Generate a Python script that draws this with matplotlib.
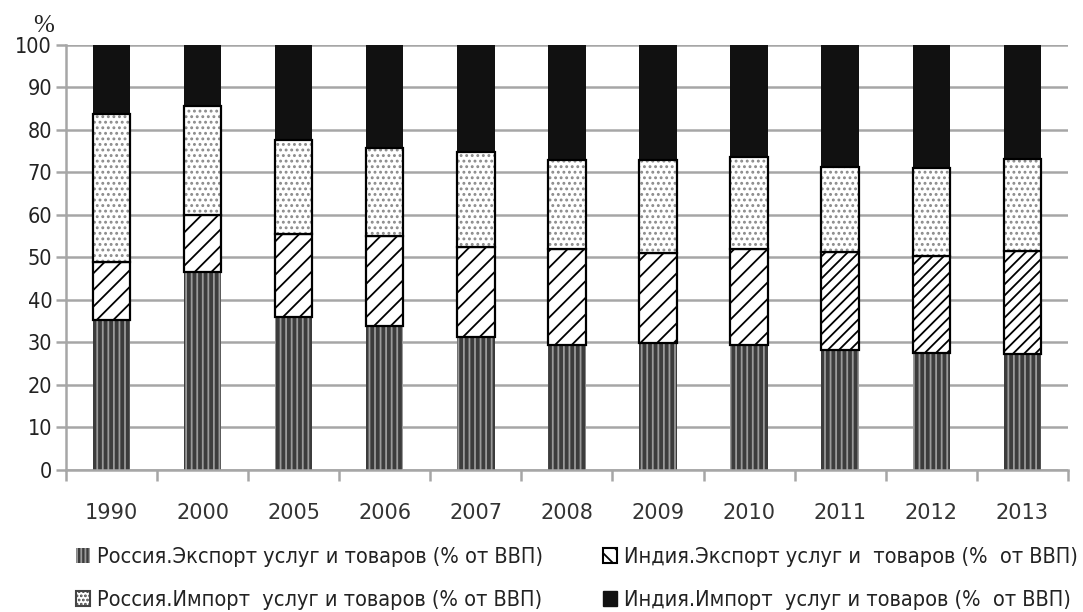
import matplotlib
matplotlib.use("Agg")
import matplotlib.pyplot as plt
import numpy as np
from matplotlib.patches import Patch

years = ["1990", "2000", "2005", "2006", "2007", "2008", "2009", "2010", "2011", "2012", "2013"]
rus_export = [35.3, 46.5, 36.0, 33.8, 31.3, 29.5, 29.8, 29.5, 28.2, 27.6, 27.2]
ind_export = [13.6, 13.5, 19.5, 21.2, 21.2, 22.5, 21.2, 22.5, 23.0, 22.7, 24.3]
rus_import = [34.9, 25.5, 22.0, 20.8, 22.3, 20.8, 22.0, 21.5, 20.1, 20.7, 21.7]
ind_import = [16.2, 14.5, 22.5, 24.2, 25.2, 27.2, 27.0, 26.5, 28.7, 29.0, 26.8]
labels = [
    "Россия.Экспорт услуг и товаров (% от ВВП)",
    "Индия.Экспорт услуг и  товаров (%  от ВВП)",
    "Россия.Импорт  услуг и товаров (% от ВВП)",
    "Индия.Импорт  услуг и товаров (%  от ВВП)",
]

plt.rcParams["hatch.linewidth"] = 1.3

fig = plt.figure(figsize=(10.83, 6.12), dpi=100)
ax = fig.add_axes([0.061, 0.232, 0.925, 0.695])

x = np.arange(len(years))
w = 0.41
b1 = np.array(rus_export)
b2 = b1 + np.array(ind_export)
b3 = b2 + np.array(rus_import)

# Russia export: dark with vertical stripes
ax.bar(x, rus_export, w, color="#3c3c3c", hatch="|||", edgecolor="#9a9a9a", linewidth=0, zorder=2)
# India export: diagonal hatch (coarser in early years, finer in later years)
ind_hatch = ["//"] * 8 + ["///"] * 3
bars = ax.bar(x, ind_export, w, bottom=b1, color="white", edgecolor="black", linewidth=1.6, zorder=2)
for b, h in zip(bars, ind_hatch):
    b.set_hatch(h)
# Russia import: dotted
ax.bar(x, rus_import, w, bottom=b2, color="white", hatch="...", edgecolor="#8a8a8a", linewidth=0, zorder=2)
ax.bar(x, rus_import, w, bottom=b2, fill=False, edgecolor="black", linewidth=1.6, zorder=3)
# India import: solid black
ax.bar(x, ind_import, w, bottom=b3, color="#111111", edgecolor="#111111", linewidth=0, zorder=2)

ax.set_xlim(-0.5, len(years) - 0.5)
ax.set_ylim(0, 100)
ax.set_yticks(range(0, 101, 10))
ax.yaxis.grid(True, color="#a6a6a6", linewidth=1.8)
ax.set_axisbelow(True)
for s in ["top", "right"]:
    ax.spines[s].set_visible(False)
for s in ["left", "bottom"]:
    ax.spines[s].set_color("#a6a6a6")
    ax.spines[s].set_linewidth(1.8)
ax.tick_params(axis="y", labelsize=15.5, colors="#a6a6a6", labelcolor="#222222", length=7, width=1.8, pad=3)
for t in ax.get_yticklabels():
    t.set_fontstretch("condensed")
ax.set_xticks(x)
ax.set_xticklabels(years, fontsize=15, color="#333333")
ax.tick_params(axis="x", length=0, pad=24)
ax.set_xticks(np.arange(-0.5, len(years)), minor=True)
ax.tick_params(axis="x", which="minor", length=8, width=1.8, color="#a6a6a6")

fig.text(0.031, 0.948, "%", fontsize=18, fontfamily="Liberation Serif", color="#222222")

h1 = Patch(facecolor="#3c3c3c", hatch="||||", edgecolor="#9a9a9a", linewidth=0)
h2 = Patch(facecolor="white", hatch="\\\\", edgecolor="black", linewidth=1.5)
h3 = Patch(facecolor="white", hatch="....", edgecolor="#444444", linewidth=1.5)
h4 = Patch(facecolor="#111111", edgecolor="#111111")

common = dict(loc="lower left", frameon=False, prop={"size": 15.6, "stretch": "condensed"},
              handlelength=0.65, handleheight=0.65, handletextpad=0.32,
              labelspacing=1.07, borderpad=0, borderaxespad=0)
leg1 = fig.legend([h1, h3], [labels[0], labels[2]], bbox_to_anchor=(0.070, 0.003), **common)
leg2 = fig.legend([h2, h4], [labels[1], labels[3]], bbox_to_anchor=(0.557, 0.003), **common)
for leg in (leg1, leg2):
    for t in leg.get_texts():
        t.set_color("#222222")

fig.savefig("out.png", dpi=100)
